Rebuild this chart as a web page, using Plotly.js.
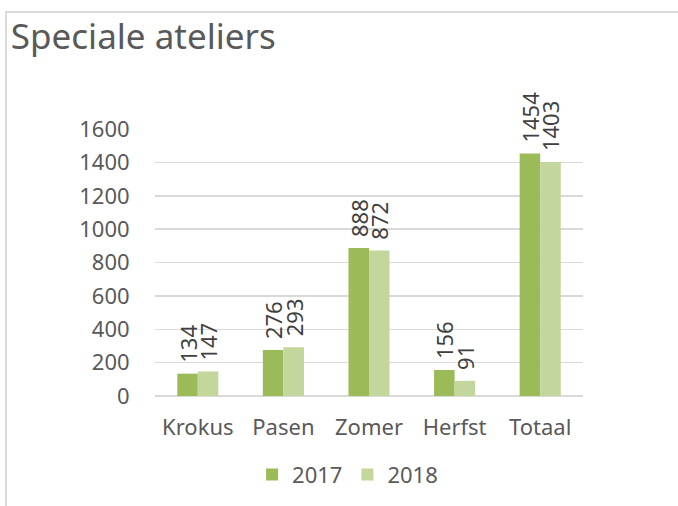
<!DOCTYPE html>
<html>
<head>
<meta charset="utf-8">
<script src="https://cdn.plot.ly/plotly-3.0.1.min.js"></script>
<style>
  html, body { margin: 0; padding: 0; background: #fff; overflow: hidden; }
  #wrap { position: relative; width: 678px; height: 506px; }
  #chart { position: absolute; left: 0; top: 0; width: 678px; height: 506px; }
  #frame { position: absolute; left: 5px; top: 11px; width: 720px; height: 600px;
           border-left: 2px solid #d9d9d9; border-top: 2px solid #d9d9d9; pointer-events: none; }
</style>
</head>
<body>
<div id="wrap">
  <div id="chart"></div>
  <div id="frame"></div>
</div>
<script>
const categories = ["Krokus", "Pasen", "Zomer", "Herfst", "Totaal"];
const values2017 = [134, 276, 888, 156, 1454];
const values2018 = [147, 293, 872, 91, 1403];
const seriesNames = ["2017", "2018"];
const yTicks = [0, 200, 400, 600, 800, 1000, 1200, 1400, 1600];

const FONT = "Noto Sans, DejaVu Sans, sans-serif";
const labelFont = { family: FONT, size: 22, color: "#404040" };

function barTrace(name, vals, color) {
  return {
    type: "bar",
    name: name,
    x: categories,
    y: vals,
    marker: { color: color },
    text: vals.map(String),
    texttemplate: "\u00a0\u200a%{text}",
    textposition: "outside",
    textangle: -90,
    constraintext: "none",
    textfont: labelFont,
    cliponaxis: false,
    hoverinfo: "none"
  };
}

const data = [
  barTrace(seriesNames[0], values2017, "#9bbb59"),
  barTrace(seriesNames[1], values2018, "#c3d69b")
];

const layout = {
  width: 678,
  height: 506,
  paper_bgcolor: "#ffffff",
  plot_bgcolor: "#ffffff",
  margin: { l: 155, r: 95, t: 129, b: 109 },
  font: { family: FONT, color: "#595959", size: 22 },
  title: {
    text: "Speciale ateliers",
    font: { family: FONT, size: 35, color: "#595959" },
    xref: "container", x: 0.016, xanchor: "left",
    yref: "container", y: 1 - 37 / 506, yanchor: "middle"
  },
  barmode: "group",
  bargap: 0.52,
  bargroupgap: 0,
  xaxis: {
    type: "category",
    showgrid: false,
    zeroline: false,
    showline: false,
    ticks: "outside",
    ticklen: 12,
    tickcolor: "rgba(0,0,0,0)",
    tickfont: { family: FONT, size: 22, color: "#595959" }
  },
  yaxis: {
    range: [0, 1601],
    tickvals: yTicks,
    ticktext: yTicks.map(String),
    showgrid: true,
    gridcolor: "#d9d9d9",
    gridwidth: 1.5,
    zeroline: true,
    zerolinecolor: "#d9d9d9",
    zerolinewidth: 1.5,
    showline: false,
    ticks: "outside",
    ticklen: 20,
    tickcolor: "rgba(0,0,0,0)",
    tickfont: { family: FONT, size: 22, color: "#595959" }
  },
  showlegend: true,
  legend: {
    orientation: "h",
    x: 0.45, xanchor: "center",
    y: -0.29, yanchor: "middle",
    font: { family: FONT, size: 22, color: "#595959" },
    itemwidth: 30,
    traceorder: "normal"
  }
};

Plotly.newPlot("chart", data, layout, { displayModeBar: false, staticPlot: true });
</script>
</body>
</html>
